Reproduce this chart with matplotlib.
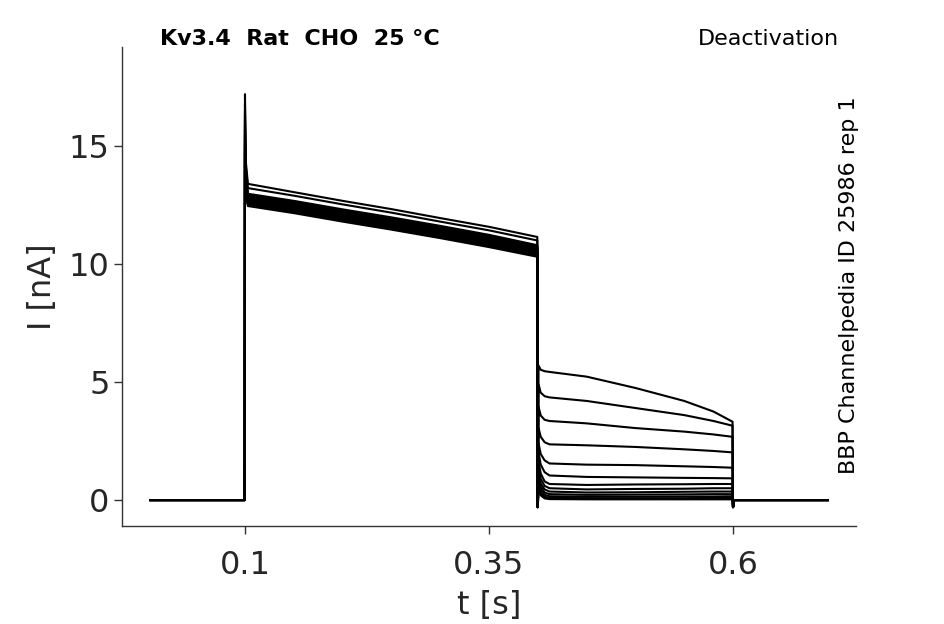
import matplotlib
matplotlib.use("Agg")
import matplotlib.pyplot as plt

# time knots of the activation pulse (s) and of the tail step
t_pulse = [0.1, 0.1005, 0.103, 0.15, 0.2, 0.25, 0.3, 0.35, 0.3995]
t_tail = [0.4008, 0.403, 0.407, 0.412, 0.45, 0.5, 0.55, 0.58, 0.5995]

# current during the pulse, one row per sweep (nA)
pulse_I = [
    [17.2, 14.5, 13.40, 13.05, 12.68, 12.33, 11.95, 11.58, 11.15],
    [16.8, 14.3, 13.22, 12.90, 12.53, 12.18, 11.80, 11.43, 11.00],
    [16.5, 14.0, 12.98, 12.68, 12.32, 11.98, 11.62, 11.24, 10.80],
    [16.3, 13.9, 12.92, 12.62, 12.26, 11.92, 11.56, 11.18, 10.75],
    [16.1, 13.8, 12.87, 12.57, 12.21, 11.87, 11.51, 11.13, 10.70],
    [15.9, 13.7, 12.82, 12.52, 12.16, 11.82, 11.46, 11.08, 10.65],
    [15.7, 13.6, 12.77, 12.47, 12.11, 11.77, 11.41, 11.03, 10.60],
    [15.5, 13.5, 12.72, 12.42, 12.06, 11.72, 11.36, 10.98, 10.55],
    [15.3, 13.4, 12.67, 12.37, 12.01, 11.67, 11.31, 10.93, 10.50],
    [15.1, 13.3, 12.62, 12.32, 11.96, 11.62, 11.26, 10.88, 10.45],
    [14.9, 13.2, 12.57, 12.27, 11.91, 11.57, 11.21, 10.83, 10.40],
    [14.7, 13.1, 12.52, 12.22, 11.86, 11.52, 11.16, 10.78, 10.35],
    [14.5, 13.0, 12.46, 12.16, 11.80, 11.46, 11.10, 10.72, 10.31],
]

# tail current, one row per sweep (nA)
tail_I = [
    [5.70, 5.52, 5.46, 5.43, 5.23, 4.75, 4.20, 3.75, 3.32],
    [4.90, 4.55, 4.40, 4.35, 4.20, 3.90, 3.60, 3.35, 3.15],
    [3.95, 3.58, 3.40, 3.35, 3.25, 3.05, 2.90, 2.78, 2.68],
    [3.05, 2.68, 2.45, 2.36, 2.32, 2.25, 2.15, 2.08, 2.02],
    [2.40, 1.95, 1.68, 1.55, 1.50, 1.48, 1.43, 1.40, 1.37],
    [2.00, 1.50, 1.18, 1.04, 0.98, 0.96, 0.94, 0.93, 0.92],
    [1.65, 1.12, 0.79, 0.68, 0.64, 0.66, 0.67, 0.68, 0.68],
    [1.40, 0.90, 0.60, 0.50, 0.45, 0.47, 0.48, 0.50, 0.50],
    [1.20, 0.70, 0.45, 0.36, 0.32, 0.33, 0.35, 0.36, 0.36],
    [1.00, 0.55, 0.32, 0.25, 0.22, 0.23, 0.24, 0.25, 0.25],
    [0.85, 0.42, 0.22, 0.16, 0.14, 0.14, 0.15, 0.15, 0.16],
    [0.70, 0.30, 0.14, 0.09, 0.08, 0.08, 0.08, 0.09, 0.09],
    [0.55, 0.20, 0.07, 0.04, 0.03, 0.03, 0.03, 0.03, 0.03],
]

# holding level and the brief dips at the voltage steps
t_before = [0.003, 0.0998]
I_before = [0.0, 0.0]
t_step_dip = [0.4]
I_step_dip = [-0.3]
t_after = [0.6, 0.6008, 0.697]
I_after = [-0.3, 0.0, 0.0]

xticks = [0.1, 0.35, 0.6]
yticks = [0, 5, 10, 15]


def main():
    fig = plt.figure(figsize=(9.45, 6.24), dpi=100)
    ax = fig.add_axes([122 / 945, 1 - 526 / 624, 734 / 945, 479 / 624])

    t_all = t_before + t_pulse + t_step_dip + t_tail + t_after
    for p, q in zip(pulse_I, tail_I):
        I_all = I_before + p + I_step_dip + q + I_after
        ax.plot(t_all, I_all, color="black", lw=1.5)

    ax.set_xlim(-0.026, 0.726)
    ax.set_ylim(-1.1, 19.2)
    ax.set_xticks(xticks)
    ax.set_xticklabels([str(x) for x in xticks])
    ax.set_yticks(yticks)

    for side in ["top", "right"]:
        ax.spines[side].set_visible(False)
    for side in ["left", "bottom"]:
        ax.spines[side].set_color("#333333")
        ax.spines[side].set_linewidth(1.0)
    ax.tick_params(direction="out", length=6, width=1.0, colors="#333333",
                   labelsize=23, labelcolor="#262626")
    ax.tick_params(axis="x", pad=11)
    ax.tick_params(axis="y", pad=3)

    ax.set_xlabel("t [s]", fontsize=23, color="#262626", labelpad=7)
    ax.set_ylabel("I [nA]", fontsize=23, color="#262626", labelpad=8)

    ax.text(0.052, 1.017, "Kv3.4  Rat  CHO  25 °C", transform=ax.transAxes,
            fontsize=16, fontweight="bold", ha="left", va="center")
    ax.text(0.977, 1.017, "Deactivation", transform=ax.transAxes,
            fontsize=16, ha="right", va="center")
    ax.text(0.990, 0.503, "BBP Channelpedia ID 25986 rep 1", transform=ax.transAxes,
            fontsize=16, rotation=90, ha="center", va="center")

    fig.savefig("out.png", dpi=100)


if __name__ == '__main__':
    main()
